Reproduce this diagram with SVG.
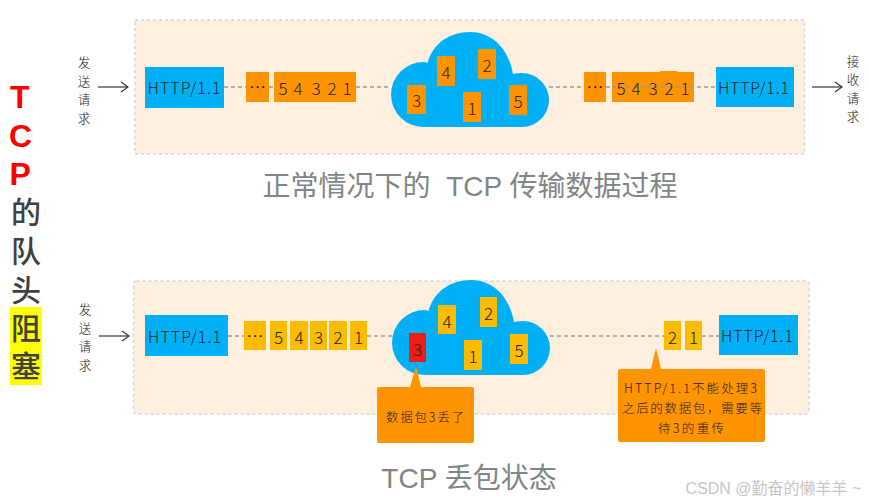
<svg xmlns="http://www.w3.org/2000/svg" width="869" height="503" viewBox="0 0 869 503">
<style>
text{font-family:"Noto Sans CJK SC","Liberation Sans",sans-serif;font-weight:300;fill:#222;text-anchor:middle;dominant-baseline:central}
.panel{fill:#FEEFDF;stroke:#D6D6D6;stroke-width:1.5;stroke-dasharray:3 3}
.blue{fill:#00B0F6}.org{fill:#FF9300}.yel{fill:#FABB00}.red{fill:#EF1D13}
.cloud{fill:#00B0F6}
.http{font-size:16px}
.d{font-size:17px}
.dots{font-family:"Liberation Sans",sans-serif;font-size:17px;font-weight:400;fill:#111}
.hand{font-size:12.6px}
.co{font-size:12.5px}
.cap{font-family:"Liberation Sans","Noto Sans CJK SC",sans-serif;font-weight:400;font-size:28px;fill:#808585;dominant-baseline:auto}
.ti{font-family:"Liberation Sans","Noto Sans CJK SC",sans-serif;font-size:30px;font-weight:500;fill:#404040;text-anchor:start;dominant-baseline:auto}
.tr{font-weight:700;fill:#FF0000;font-size:32px}
.dash{stroke:#999;stroke-width:1.5;stroke-dasharray:4 3;fill:none}
.arr{stroke:#333;stroke-width:1.2;fill:none}
</style>
<defs>
<marker id="ah" markerWidth="10" markerHeight="12" refX="9" refY="6" orient="auto" markerUnits="userSpaceOnUse"><path d="M2 1L9 6L2 11" fill="none" stroke="#333" stroke-width="1.2"/></marker>
<path id="cloudShape" d="M423.500 127A32.500 32.500 0 0 1 423.500 62Q425.500 62 427.500 63C433 43 450 32 470 32C493 32 509 50 513 74Q518 73 522 73A27 27 0 0 1 522 127Z"/>
</defs>
<g id="panel-top"><rect class="panel" x="135" y="20" width="669.500" height="134"/></g>
<g id="panel-bottom"><rect class="panel" x="133.500" y="281" width="675.500" height="133" rx="3"/></g>

<g id="connectors">
<path class="dash" d="M224 87H246M269 87H274M356 87H391M549 87H584M606 87H716"/>
<path class="dash" d="M228 336H244M367 336H392M550 336H664M702 336H719"/>
<path class="arr" marker-end="url(#ah)" d="M98 87H128"/>
<path class="arr" marker-end="url(#ah)" d="M812 87H842"/>
<path class="arr" marker-end="url(#ah)" d="M99 336H129"/>
</g>

<g id="title">
<text class="ti tr" x="10" y="108">T</text>
<text class="ti tr" x="9" y="147">C</text>
<text class="ti tr" x="9.500" y="185">P</text>
<text class="ti" x="11" y="223">的</text>
<text class="ti" x="11" y="262">队</text>
<text class="ti" x="11" y="301">头</text>
<rect x="10" y="307" width="32" height="78" fill="#FFFF00"/>
<text class="ti" x="11" y="339">阻</text>
<text class="ti" x="11" y="377">塞</text>
</g>

<g id="send-label-top"><text class="hand"><tspan x="84" y="61">发</tspan><tspan x="84" y="79.700">送</tspan><tspan x="84" y="98.400">请</tspan><tspan x="84" y="117">求</tspan></text></g>
<g id="recv-label-top"><text class="hand"><tspan x="853" y="60">接</tspan><tspan x="853" y="78.400">收</tspan><tspan x="853" y="96.800">请</tspan><tspan x="853" y="115.200">求</tspan></text></g>
<g id="send-label-bottom"><text class="hand"><tspan x="85" y="308">发</tspan><tspan x="85" y="326.700">送</tspan><tspan x="85" y="345.400">请</tspan><tspan x="85" y="364">求</tspan></text></g>

<g id="http-top-left"><rect class="blue" x="145" y="67" width="79" height="41"/><text class="http" x="184" y="87" textLength="73">HTTP/1.1</text></g>
<g id="dots-top-left"><rect class="org" x="246" y="72" width="23" height="30"/><text class="dots" x="257.500" y="86">···</text></g>
<g id="queue-top-left"><rect class="org" x="274" y="72" width="82" height="30"/>
<text class="d" x="283" y="87">5</text><text class="d" x="298" y="87">4</text><text class="d" x="316" y="87">3</text><text class="d" x="332" y="87">2</text><text class="d" x="347" y="87">1</text></g>

<g id="cloud-top"><use href="#cloudShape" class="cloud"/>
<rect class="org" x="407" y="85" width="19" height="29"/><text class="d" x="416.500" y="99">3</text>
<rect class="org" x="437" y="56" width="18" height="30"/><text class="d" x="446" y="71">4</text>
<rect class="org" x="478" y="49" width="18" height="30"/><text class="d" x="487" y="64">2</text>
<rect class="org" x="463" y="92" width="18" height="30"/><text class="d" x="472" y="107">1</text>
<rect class="org" x="509" y="85" width="18" height="30"/><text class="d" x="518" y="100">5</text></g>

<g id="dots-top-right"><rect class="org" x="584" y="72" width="22" height="30"/><text class="dots" x="595" y="86">···</text></g>
<g id="queue-top-right"><rect class="org" x="612" y="72" width="82" height="30"/><rect class="org" x="660" y="71" width="17" height="31"/>
<path class="dash" d="M612 87H694"/>
<text class="d" x="621" y="87">5</text><text class="d" x="636" y="87">4</text><text class="d" x="653" y="87">3</text><text class="d" x="669" y="87">2</text><text class="d" x="685" y="87">1</text></g>
<g id="http-top-right"><rect class="blue" x="716" y="67" width="78" height="40"/><text class="http" x="753.500" y="87" textLength="71">HTTP/1.1</text></g>

<g id="caption-top"><text class="cap" x="470" y="196" xml:space="preserve">正常情况下的  TCP 传输数据过程</text></g>

<g id="http-bottom-left"><rect class="blue" x="145" y="315" width="83" height="41"/><text class="http" x="184.500" y="336" textLength="73">HTTP/1.1</text></g>
<g id="queue-bottom-left">
<rect class="yel" x="244" y="321" width="22" height="29"/><text class="dots" x="255" y="335">···</text>
<rect class="yel" x="270" y="321" width="17" height="29"/><text class="d" x="278.500" y="336">5</text>
<rect class="yel" x="290" y="321" width="18" height="29"/><text class="d" x="299" y="336">4</text>
<rect class="yel" x="310" y="321" width="17" height="29"/><text class="d" x="318.500" y="336">3</text>
<rect class="yel" x="329" y="321" width="18" height="29"/><text class="d" x="338" y="336">2</text>
<rect class="yel" x="350" y="321" width="17" height="29"/><text class="d" x="358.500" y="336">1</text></g>

<g id="cloud-bottom"><use href="#cloudShape" class="cloud" transform="translate(1 248)"/>
<rect class="red" x="409" y="333" width="17" height="29"/><text class="d" x="417.500" y="348">3</text>
<rect class="yel" x="438" y="305" width="18" height="29"/><text class="d" x="447" y="320">4</text>
<rect class="yel" x="480" y="297" width="17" height="30"/><text class="d" x="488.500" y="312">2</text>
<rect class="yel" x="464" y="340" width="18" height="30"/><text class="d" x="473" y="355">1</text>
<rect class="yel" x="510" y="334" width="18" height="30"/><text class="d" x="519" y="349">5</text></g>

<g id="queue-bottom-right">
<rect class="yel" x="664" y="321" width="17" height="29"/><text class="d" x="672.500" y="336">2</text>
<rect class="yel" x="685" y="321" width="17" height="29"/><text class="d" x="693.500" y="336">1</text></g>
<g id="http-bottom-right"><rect class="blue" x="719" y="315" width="79" height="40"/><text class="http" x="757" y="335" textLength="72">HTTP/1.1</text></g>

<g id="callout-lost"><path class="org" d="M416 366L421 387H472Q474 387 474 389V441Q474 443 472 443H379Q377 443 377 441V389Q377 387 379 387H410Z"/>
<text class="co" x="425" y="416" textLength="78">数据包3丢了</text></g>
<g id="callout-wait"><path class="org" d="M656 348L661 369H763Q765 369 765 371V440Q765 442 763 442H620Q618 442 618 440V371Q618 369 620 369H651Z"/>
<text class="co" x="690.500" y="387" textLength="133">HTTP/1.1不能处理3</text>
<text class="co" x="692" y="407" textLength="140">之后的数据包，需要等</text>
<text class="co" x="691" y="427" textLength="66">待3的重传</text></g>

<g id="caption-bottom"><text class="cap" x="469" y="488">TCP 丢包状态</text></g>
<g id="watermark"><text x="773.500" y="494" style="font-family:'Liberation Sans','Noto Sans CJK SC',sans-serif;font-weight:400;font-size:16px;fill:#C6C6C6;dominant-baseline:auto">CSDN @勤奋的懒羊羊 ~</text></g>
</svg>
